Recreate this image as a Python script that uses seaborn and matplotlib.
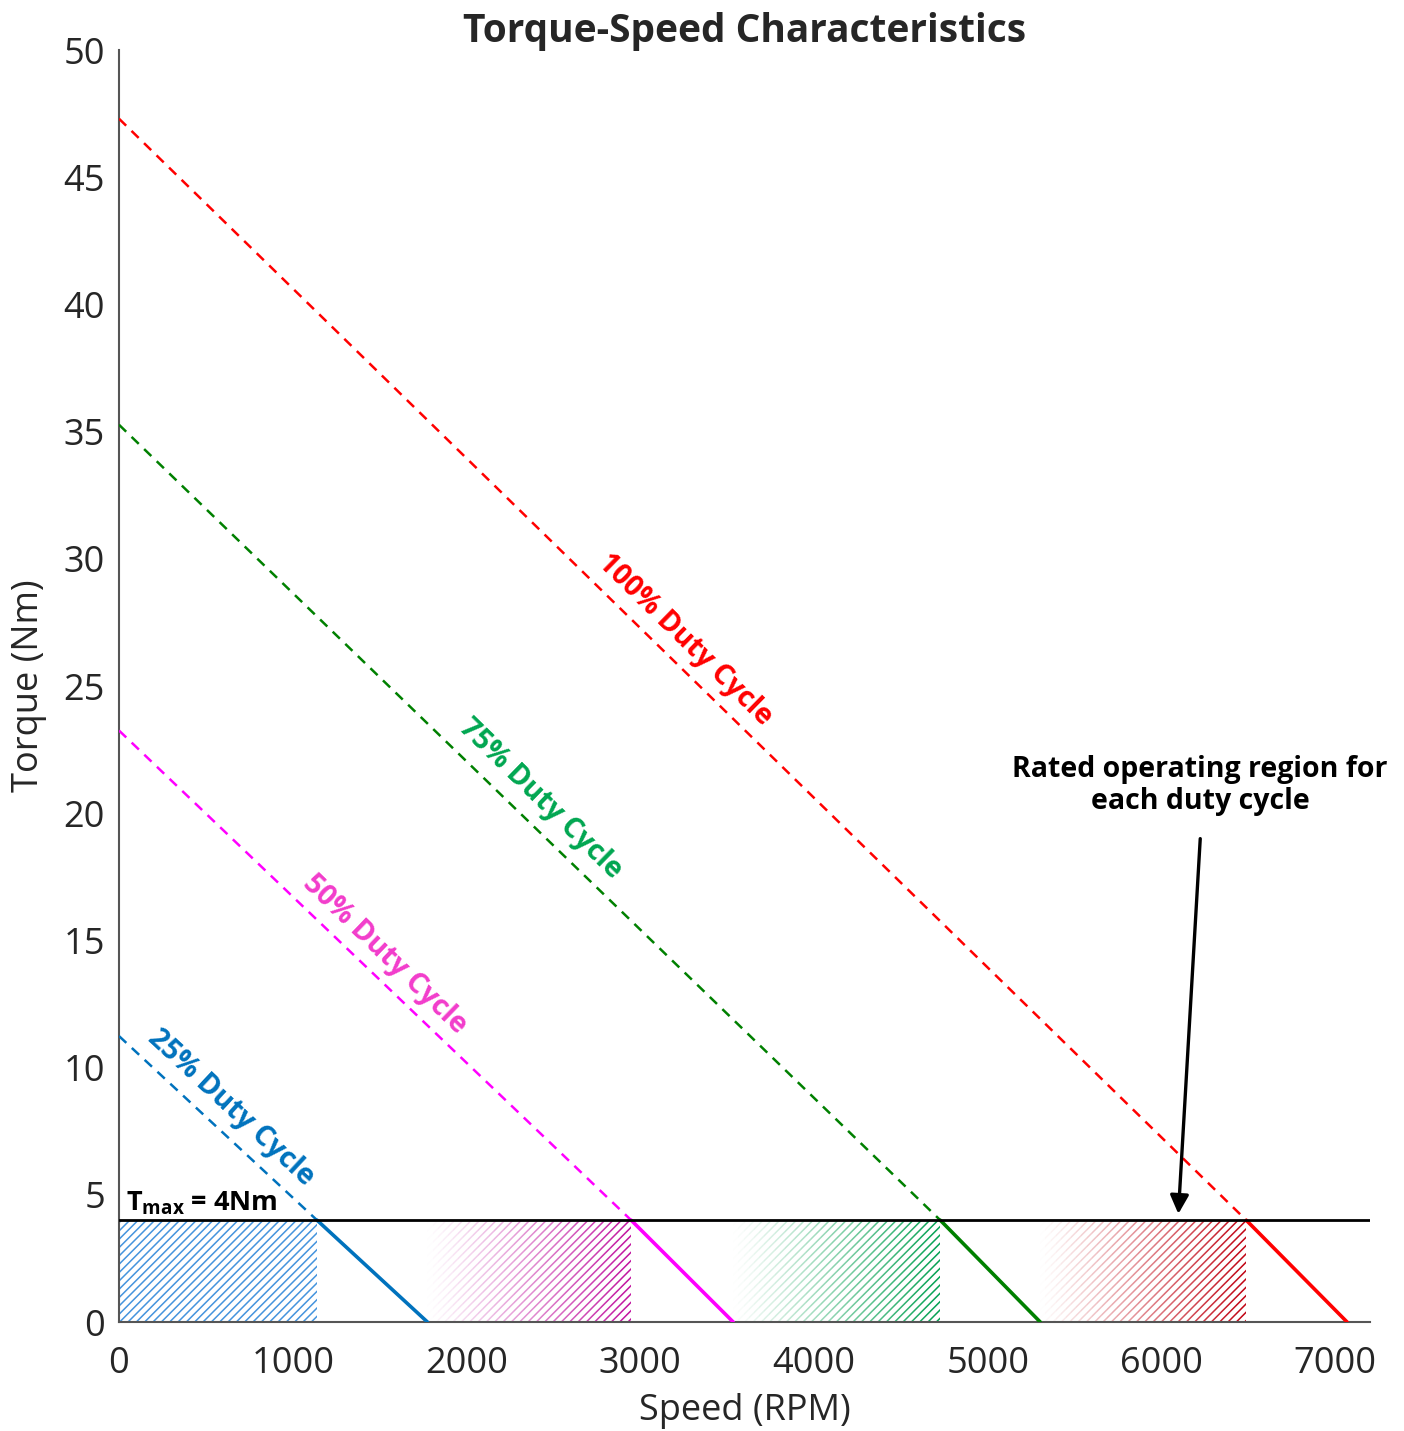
import numpy as np
import pandas as pd
import matplotlib
matplotlib.use("Agg")
import matplotlib.pyplot as plt
import seaborn as sns

# ---------------- data ----------------
duty_labels = ["25% Duty Cycle", "50% Duty Cycle", "75% Duty Cycle", "100% Duty Cycle"]
stall_torque = [11.24, 23.25, 35.27, 47.3]        # Nm at 0 RPM
knee_speed = [1140, 2948, 4727, 6488]             # RPM where curve meets T_max
no_load_speed = [1775, 3535, 5302, 7068]          # RPM at 0 Nm
t_max = 4.0
line_colors = ["#0072BD", "#FF00FF", "#008000", "#FF0000"]
label_colors = ["#0072BD", "#F23CCB", "#00A650", "#FF0000"]
hatch_colors = ["#3A8EDC", "#C0109E", "#00A050", "#C00010"]
label_pos = [(645, 8.42), (1531, 14.43), (2424, 20.56), (3259, 26.8)]
x_ticks = list(range(0, 8000, 1000))
y_ticks = list(range(0, 55, 5))

# ---------------- style ----------------
sns.set_theme(style="white")
plt.rcParams["font.family"] = ["Open Sans", "DejaVu Sans"]
plt.rcParams["mathtext.fontset"] = "custom"
plt.rcParams["mathtext.rm"] = "Open Sans"
plt.rcParams["mathtext.bf"] = "Open Sans:bold"
plt.rcParams["hatch.linewidth"] = 1.1

fig = plt.figure(figsize=(14.04, 14.31), dpi=100)
ax = fig.add_axes([119 / 1404, 1 - 1322 / 1431, (1370 - 119) / 1404, (1322 - 50) / 1431])
ax.set_xlim(0, 7200)
ax.set_ylim(0, 50)

# hatched rated regions
prev_end = [0] + no_load_speed[:-1]
for i in range(4):
    x0, x1 = prev_end[i], knee_speed[i]
    if i == 0:
        ax.fill_between([x0, x1], 0, t_max, facecolor="none", edgecolor=hatch_colors[i],
                        hatch="////", linewidth=0, alpha=0.95, zorder=1)
    else:
        n = 40
        edges = np.linspace(x0, x1, n + 1)
        for k in range(n):
            a = ((k + 0.5) / n) ** 1.1
            ax.fill_between([edges[k], edges[k + 1]], 0, t_max, facecolor="none",
                            edgecolor=hatch_colors[i], hatch="////", linewidth=0,
                            alpha=a, zorder=1)

# curves
for i in range(4):
    dashed = pd.DataFrame({"speed": [0, knee_speed[i]], "torque": [stall_torque[i], t_max]})
    solid = pd.DataFrame({"speed": [knee_speed[i], no_load_speed[i]], "torque": [t_max, 0]})
    sns.lineplot(data=dashed, x="speed", y="torque", ax=ax, color=line_colors[i],
                 linewidth=1.8, linestyle=(0, (4, 3)), zorder=3)
    sns.lineplot(data=solid, x="speed", y="torque", ax=ax, color=line_colors[i],
                 linewidth=2.6, zorder=3)

# T_max line
ax.axhline(t_max, color="black", linewidth=2.0, zorder=4)
ax.text(40, 4.12, r"$\mathbf{T_{max}}$ = 4Nm", fontsize=19.5, fontweight="bold",
        ha="left", va="bottom", color="black")

# rotated curve labels
fig.canvas.draw()
for i in range(4):
    p0 = ax.transData.transform((0, stall_torque[i]))
    p1 = ax.transData.transform((no_load_speed[i], 0))
    ang = np.degrees(np.arctan2(p1[1] - p0[1], p1[0] - p0[0]))
    ax.text(label_pos[i][0], label_pos[i][1], duty_labels[i], rotation=ang,
            rotation_mode="anchor", ha="center", va="center", fontsize=20.5,
            fontweight="bold", color=label_colors[i])

# annotation
ax.text(6223, 22.3, "Rated operating region for\neach duty cycle", ha="center", va="top",
        fontsize=20.5, fontweight="bold", color="black", linespacing=1.15)
ax.annotate("", xy=(6097, 4.25), xytext=(6223, 19.0),
            arrowprops=dict(arrowstyle="-|>", color="black", lw=2.4, mutation_scale=28,
                            shrinkA=0, shrinkB=0), zorder=5)

# axes styling
ax.set_xticks(x_ticks)
ax.set_yticks(y_ticks)
ax.tick_params(axis="both", direction="in", length=9, width=1.2, labelsize=26,
               colors="#262626", pad=10)
ax.tick_params(axis="x", pad=17)
for side in ["top", "right"]:
    ax.spines[side].set_visible(False)
for side in ["left", "bottom"]:
    ax.spines[side].set_color("#555555")
    ax.spines[side].set_linewidth(1.5)
ax.set_xlabel("Speed (RPM)", fontsize=26, color="#262626", labelpad=8)
ax.set_ylabel("Torque (Nm)", fontsize=26, color="#262626", labelpad=12)
ax.set_title("Torque-Speed Characteristics", fontsize=28, fontweight="bold", pad=6)

fig.savefig("out.png", dpi=100)
